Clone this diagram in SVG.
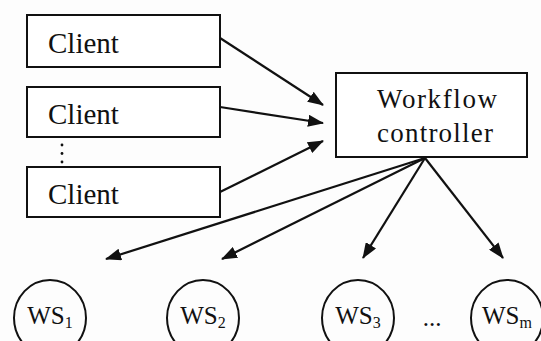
<svg xmlns="http://www.w3.org/2000/svg" width="541" height="341" viewBox="0 0 541 341">
<style>
.box{fill:#fff;stroke:#111;stroke-width:2}
.ws{fill:none;stroke:#111;stroke-width:2}
.edge{stroke:#111;stroke-width:2.2;fill:none}
</style>
<defs>
<marker id="ah" viewBox="0 0 16 12" refX="15" refY="6" markerWidth="16" markerHeight="12" markerUnits="userSpaceOnUse" orient="auto">
<path d="M0,0 L16,6 L0,12 Z" fill="#111"/>
</marker>
</defs>
<rect width="541" height="341" fill="#fdfdfd"/>
<g font-family="Times New Roman, Liberation Serif, DejaVu Serif, Noto Serif, serif" fill="#111">
<g id="client1"><rect class="box" x="27" y="15" width="193" height="52"/><text x="48" y="53" font-size="29">Client</text></g>
<g id="client2"><rect class="box" x="27" y="87" width="193" height="50"/><text x="48" y="124" font-size="29">Client</text></g>
<g id="dots"><circle cx="62" cy="145" r="1.4"/><circle cx="62" cy="153.5" r="1.4"/><circle cx="62" cy="162" r="1.4"/></g>
<g id="client3"><rect class="box" x="27" y="167" width="193" height="50"/><text x="48" y="204" font-size="29">Client</text></g>
<g id="controller"><rect class="box" x="336" y="73" width="191" height="84"/>
<text x="437" y="108" font-size="27" text-anchor="middle" textLength="120" lengthAdjust="spacing">Workflow</text>
<text x="435" y="142" font-size="27" text-anchor="middle" textLength="116" lengthAdjust="spacing">controller</text></g>
<g id="ws1"><ellipse class="ws" cx="50" cy="318" rx="36" ry="38"/><text x="50" y="324" font-size="25" text-anchor="middle">WS<tspan font-size="16" dy="4">1</tspan></text></g>
<g id="ws2"><ellipse class="ws" cx="203" cy="318" rx="36" ry="38"/><text x="203" y="324" font-size="25" text-anchor="middle">WS<tspan font-size="16" dy="4">2</tspan></text></g>
<g id="ws3"><ellipse class="ws" cx="358" cy="318" rx="36" ry="38"/><text x="358" y="324" font-size="25" text-anchor="middle">WS<tspan font-size="16" dy="4">3</tspan></text></g>
<g id="wsdots"><text x="432" y="326" font-size="25" text-anchor="middle">...</text></g>
<g id="wsm"><ellipse class="ws" cx="507" cy="318" rx="36" ry="38"/><text x="507" y="324" font-size="25" text-anchor="middle">WS<tspan font-size="16" dy="4">m</tspan></text></g>
</g>
<g id="connectors">
<line class="edge" x1="220" y1="38" x2="323" y2="105" marker-end="url(#ah)"/>
<line class="edge" x1="220" y1="107" x2="323" y2="123" marker-end="url(#ah)"/>
<line class="edge" x1="220" y1="192" x2="323" y2="141" marker-end="url(#ah)"/>
<line class="edge" x1="425" y1="158" x2="106" y2="259" marker-end="url(#ah)"/>
<line class="edge" x1="425" y1="158" x2="222" y2="259" marker-end="url(#ah)"/>
<line class="edge" x1="425" y1="158" x2="363" y2="258" marker-end="url(#ah)"/>
<line class="edge" x1="425" y1="158" x2="503" y2="258" marker-end="url(#ah)"/>
</g>
</svg>
